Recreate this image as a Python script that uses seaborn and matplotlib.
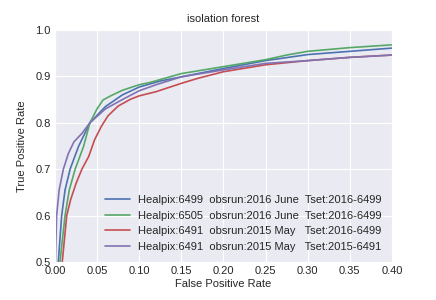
import matplotlib
matplotlib.use('Agg')
from matplotlib import pyplot as plt
import seaborn as sns
import pandas as pd

# ROC curves (fpr, tpr)
fpr_6499 = [0.0, 0.004, 0.008, 0.012, 0.018, 0.028, 0.0415, 0.06, 0.08, 0.10, 0.125, 0.15, 0.2, 0.25, 0.3, 0.35, 0.4]
tpr_6499 = [0.3, 0.5, 0.6, 0.655, 0.7, 0.749, 0.8, 0.835, 0.86, 0.877, 0.89, 0.899, 0.917, 0.934, 0.947, 0.954, 0.961]

fpr_6505 = [0.0, 0.006, 0.012, 0.017, 0.024, 0.034, 0.0415, 0.05, 0.057, 0.065, 0.08, 0.10, 0.113, 0.15, 0.2, 0.25, 0.275, 0.3, 0.35, 0.4]
tpr_6505 = [0.3, 0.5, 0.6, 0.655, 0.7, 0.749, 0.8, 0.83, 0.849, 0.857, 0.87, 0.882, 0.887, 0.906, 0.921, 0.936, 0.946, 0.954, 0.962, 0.968]

fpr_6491_16 = [0.0, 0.0087, 0.014, 0.0186, 0.025, 0.032, 0.040, 0.047, 0.055, 0.063, 0.075, 0.09, 0.10, 0.12, 0.135, 0.15, 0.17, 0.2, 0.25, 0.3, 0.35, 0.4]
tpr_6491_16 = [0.3, 0.5, 0.6, 0.634, 0.669, 0.7, 0.727, 0.763, 0.792, 0.815, 0.836, 0.851, 0.858, 0.867, 0.876, 0.885, 0.896, 0.910, 0.925, 0.934, 0.941, 0.946]

fpr_6491_15 = [0.0, 0.0005, 0.002, 0.005, 0.010, 0.016, 0.0226, 0.032, 0.0415, 0.06, 0.08, 0.10, 0.12, 0.15, 0.2, 0.25, 0.3, 0.35, 0.4]
tpr_6491_15 = [0.3, 0.5, 0.6, 0.655, 0.7, 0.734, 0.759, 0.777, 0.8, 0.83, 0.85, 0.869, 0.882, 0.899, 0.914, 0.928, 0.934, 0.941, 0.946]

labels = ['Healpix:6499  obsrun:2016 June  Tset:2016-6499',
          'Healpix:6505  obsrun:2016 June  Tset:2016-6499',
          'Healpix:6491  obsrun:2015 May   Tset:2016-6499',
          'Healpix:6491  obsrun:2015 May   Tset:2015-6491']
colors = ['#4C72B0', '#55A868', '#C44E52', '#8172B2']

frames = []
for lab, x, y in zip(labels,
                     [fpr_6499, fpr_6505, fpr_6491_16, fpr_6491_15],
                     [tpr_6499, tpr_6505, tpr_6491_16, tpr_6491_15]):
    frames.append(pd.DataFrame({'fpr': x, 'tpr': y, 'run': lab}))
df = pd.concat(frames, ignore_index=True)

sns.set_style("darkgrid")
plt.rcParams['font.family'] = ['Liberation Sans', 'DejaVu Sans']

fig, ax = plt.subplots(figsize=(4.36, 3.0), dpi=100)
fig.subplots_adjust(left=0.126, right=0.899, top=0.9, bottom=0.127)

sns.lineplot(data=df, x='fpr', y='tpr', hue='run', palette=colors,
             estimator=None, sort=False, linewidth=1.2, ax=ax)

ax.set_xlim(0, 0.4)
ax.set_ylim(0.5, 1.0)
ax.set_xticks([0.0, 0.05, 0.1, 0.15, 0.2, 0.25, 0.3, 0.35, 0.4])
ax.set_yticks([0.5, 0.6, 0.7, 0.8, 0.9, 1.0])
ax.set_xticklabels(['%.2f' % t for t in ax.get_xticks()], fontsize=8)
ax.set_yticklabels(['%.1f' % t for t in ax.get_yticks()], fontsize=8)
ax.tick_params(length=0, pad=3)
ax.set_xlabel('False Positive Rate', fontsize=8, labelpad=2)
ax.set_ylabel('True Positive Rate', fontsize=8, labelpad=6)
ax.set_title('isolation forest', fontsize=8)

ax.legend(loc='lower right', fontsize=8, frameon=False, handlelength=2.2)

plt.savefig('out.png', dpi=100)
